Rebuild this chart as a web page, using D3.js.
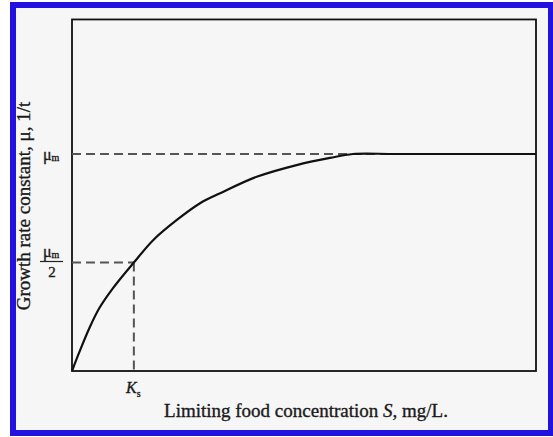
<!DOCTYPE html>
<html>
<head>
<meta charset="utf-8">
<script src="https://cdn.jsdelivr.net/npm/d3@7"></script>
<style>
  html, body { margin: 0; padding: 0; background: #ffffff; }
  svg { display: block; }
  text { font-family: "Liberation Serif", "Times New Roman", serif; fill: #1a1a1a; stroke: #1a1a1a; stroke-width: 0.35; }
</style>
</head>
<body>
<svg id="chart" width="553" height="437"></svg>
<script>
// Monod growth curve: substrate concentration S (relative units) vs growth rate (fraction of μm)
const substrate = [0, 0.24, 0.56, 0.88, 1.32, 2.0, 2.63, 3.39, 4.14, 4.79, 5.97, 7.26, 8.34, 9.08, 10.5, 15];
const growthRate = [0, 0.088, 0.197, 0.289, 0.381, 0.5, 0.604, 0.696, 0.773, 0.819, 0.895, 0.949, 0.982, 1.0, 1.0, 1.0];
const muMax = 1.0;
const halfSat = 2.0;           // Ks
const xMax = 15;
const yMax = 1.62;

const svg = d3.select("#chart");

// page frame
svg.append("rect").attr("x", 13).attr("y", 5).attr("width", 538).attr("height", 428)
  .attr("fill", "#f6f6f6").attr("stroke", "#2212e2").attr("stroke-width", 6);

const x = d3.scaleLinear().domain([0, xMax]).range([72, 536]);
const y = d3.scaleLinear().domain([0, muMax]).range([371, 154]);

// plot box
svg.append("rect")
  .attr("x", x(0)).attr("y", y(yMax))
  .attr("width", x(xMax) - x(0)).attr("height", y(0) - y(yMax))
  .attr("fill", "none").attr("stroke", "#111").attr("stroke-width", 1.8);

function guide(x1, y1, x2, y2) {
  svg.append("line")
    .attr("x1", x1).attr("y1", y1).attr("x2", x2).attr("y2", y2)
    .attr("stroke", "#555").attr("stroke-width", 2).attr("stroke-dasharray", "9,5");
}

// μm reference line, μm/2 and Ks guides
guide(x(0), y(muMax), x(xMax), y(muMax));
guide(x(0), y(muMax / 2), x(halfSat), y(muMax / 2));
guide(x(halfSat), y(muMax / 2), x(halfSat), y(0));

// growth curve
const pts = substrate.map((s, i) => [s, growthRate[i]]);
svg.append("path")
  .datum(pts)
  .attr("d", d3.line().x(d => x(d[0])).y(d => y(d[1])).curve(d3.curveCatmullRom.alpha(0.5)))
  .attr("fill", "none").attr("stroke", "#111").attr("stroke-width", 2.2);

// y labels: μm and μm/2
const muLab = svg.append("text").attr("x", 43).attr("y", y(muMax) + 6).attr("font-size", 16);
muLab.append("tspan").text("μ");
muLab.append("tspan").attr("font-size", 10).attr("dy", 1).text("m");

const halfY = y(muMax / 2);
const hl = svg.append("text").attr("x", 43).attr("y", halfY - 6).attr("font-size", 16);
hl.append("tspan").text("μ");
hl.append("tspan").attr("font-size", 10).attr("dy", 1).text("m");
svg.append("line").attr("x1", 40).attr("x2", 63).attr("y1", halfY - 1).attr("y2", halfY - 1)
  .attr("stroke", "#222").attr("stroke-width", 1.2);
svg.append("text").attr("x", 52).attr("y", halfY + 14).attr("text-anchor", "middle")
  .attr("font-size", 15).text("2");

// Ks label
const ks = svg.append("text").attr("x", 126).attr("y", 393).attr("font-size", 16);
ks.append("tspan").attr("font-style", "italic").text("K");
ks.append("tspan").attr("font-size", 10).attr("dy", 4).text("s");

// axis titles
const xt = svg.append("text").attr("x", 306).attr("y", 417).attr("text-anchor", "middle")
  .attr("font-size", 19);
xt.append("tspan").text("Limiting food concentration ");
xt.append("tspan").attr("font-style", "italic").text("S");
xt.append("tspan").text(", mg/L.");

svg.append("text")
  .attr("transform", "translate(30,206) rotate(-90)")
  .attr("text-anchor", "middle").attr("font-size", 19)
  .text("Growth rate constant, μ, 1/t");
</script>
</body>
</html>
